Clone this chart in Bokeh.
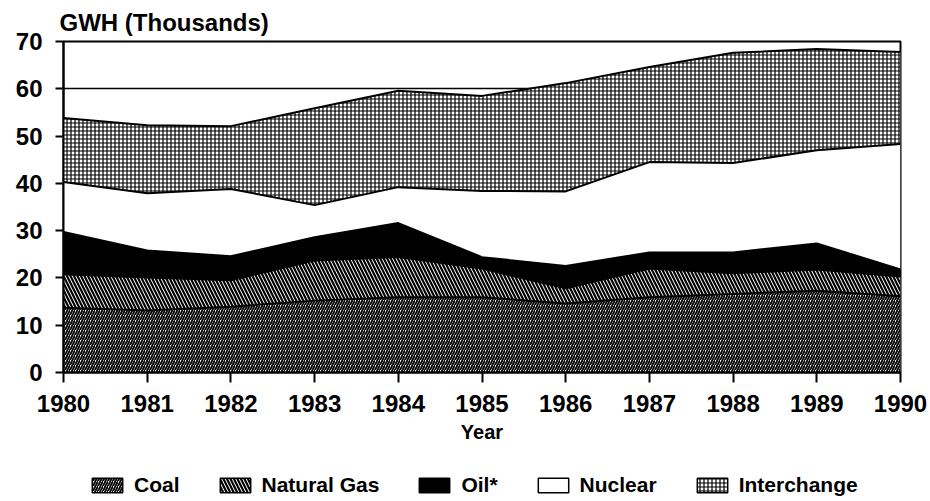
from bokeh.plotting import figure
from bokeh.layouts import column
from bokeh.models import Legend, LegendItem, ColumnDataSource, FixedTicker, Range1d
from bokeh.transform import stack
from bokeh.embed import file_html
from bokeh.resources import INLINE

years = [1980, 1981, 1982, 1983, 1984, 1985, 1986, 1987, 1988, 1989, 1990]
coal = [13.7, 13.1, 13.9, 15.2, 15.9, 15.9, 14.6, 15.9, 16.6, 17.3, 16.1]
natural_gas = [7.1, 7.0, 5.6, 8.5, 8.5, 6.1, 3.2, 6.1, 4.4, 4.5, 4.2]
oil = [8.9, 5.7, 5.1, 4.9, 7.2, 2.4, 4.7, 3.4, 4.4, 5.5, 1.5]
nuclear = [10.6, 12.1, 14.2, 6.8, 7.6, 14.0, 15.8, 19.1, 18.9, 19.7, 26.5]
interchange = [13.5, 14.4, 13.3, 20.5, 20.4, 20.1, 22.9, 20.1, 23.3, 21.4, 19.5]

names = ["coal", "gas", "oil", "nuclear", "interchange"]
labels = ["Coal", "Natural Gas", "Oil*", "Nuclear", "Interchange"]
y_ticks = [0, 10, 20, 30, 40, 50, 60, 70]

src = ColumnDataSource(dict(year=years, coal=coal, gas=natural_gas, oil=oil,
                            nuclear=nuclear, interchange=interchange))

FONT = "Liberation Sans"

main = figure(width=930, height=465, output_backend="svg", toolbar_location=None,
              x_range=Range1d(1980, 1990), y_range=Range1d(0, 70),
              min_border_left=63, min_border_right=30, min_border_top=41,
              min_border_bottom=93, title="GWH (Thousands)")
main.background_fill_color = "white"
main.border_fill_color = "white"

fills = ["white", "white", "black", "white", "white"]
hatches = ["/", "\\", " ", " ", "+"]
scales = [5, 7, 6, 6, 4]
weights = [1.8, 2.2, 1.0, 1.0, 1.2]

main.varea_stack(stackers=names, x="year", source=src, fill_color=fills,
                 hatch_pattern=hatches, hatch_color="black", hatch_scale=scales,
                 hatch_weight=weights)

for i in range(len(names)):
    main.line(x="year", y=stack(*names[:i + 1]), source=src, line_color="black",
              line_width=2)

main.title.text_font = FONT
main.title.text_font_size = "24px"
main.title.text_font_style = "bold"
main.title.text_color = "black"
main.title.align = "left"
main.title.offset = -4
main.title.standoff = 12

main.xaxis.ticker = FixedTicker(ticks=years)
main.yaxis.ticker = FixedTicker(ticks=y_ticks)
for ax in (main.xaxis, main.yaxis):
    ax.major_label_text_font = FONT
    ax.major_label_text_font_size = "24px"
    ax.major_label_text_font_style = "bold"
    ax.major_label_text_color = "black"
    ax.axis_line_color = "black"
    ax.axis_line_width = 2
    ax.major_tick_line_color = "black"
    ax.major_tick_line_width = 2
    ax.major_tick_in = 0
    ax.minor_tick_line_color = None
main.xaxis.major_tick_out = 10
main.yaxis.major_tick_out = 8
main.xaxis.axis_label = "Year"
main.xaxis.axis_label_text_font = FONT
main.xaxis.axis_label_text_font_size = "20px"
main.xaxis.axis_label_text_font_style = "bold"
main.xaxis.axis_label_text_color = "black"
main.xaxis.axis_label_standoff = 6
main.xaxis.major_label_standoff = 12
main.yaxis.major_label_standoff = 13

main.xgrid.grid_line_color = None
main.ygrid.ticker = FixedTicker(ticks=y_ticks)
main.ygrid.grid_line_color = "black"
main.ygrid.grid_line_width = 1.5

main.outline_line_color = "black"
main.outline_line_width = 2
main.outline_line_alpha = 1

# legend strip below the chart (its frame is aligned with the chart's frame)
leg = figure(width=930, height=36, output_backend="svg", toolbar_location=None,
             x_range=Range1d(0, 1), y_range=Range1d(0, 1),
             x_axis_location=None, y_axis_location=None,
             min_border_left=0, min_border_right=0, min_border_top=0,
             min_border_bottom=0)
leg.grid.visible = False
leg.outline_line_color = None
leg.background_fill_color = "white"
leg.border_fill_color = "white"

items = []
for i, lab in enumerate(labels):
    r = leg.quad(left=[5], right=[6], top=[5], bottom=[4],
                 fill_color=fills[i],
                 hatch_pattern=hatches[i], hatch_color="black",
                 hatch_scale=scales[i], hatch_weight=weights[i],
                 line_color="black", line_width=1.5)
    items.append(LegendItem(label=lab, renderers=[r]))

legend = Legend(items=items, orientation="horizontal", location=(25, 4),
                border_line_color=None, background_fill_alpha=0,
                label_text_font=FONT, label_text_font_size="21px",
                label_text_font_style="bold", label_text_color="black",
                glyph_width=38, glyph_height=18, label_height=20,
                spacing=36, label_standoff=8, padding=0, margin=0)
leg.add_layout(legend, "center")

p = column(main, leg, spacing=0)

open("out.html", "w").write(file_html(p, INLINE))
